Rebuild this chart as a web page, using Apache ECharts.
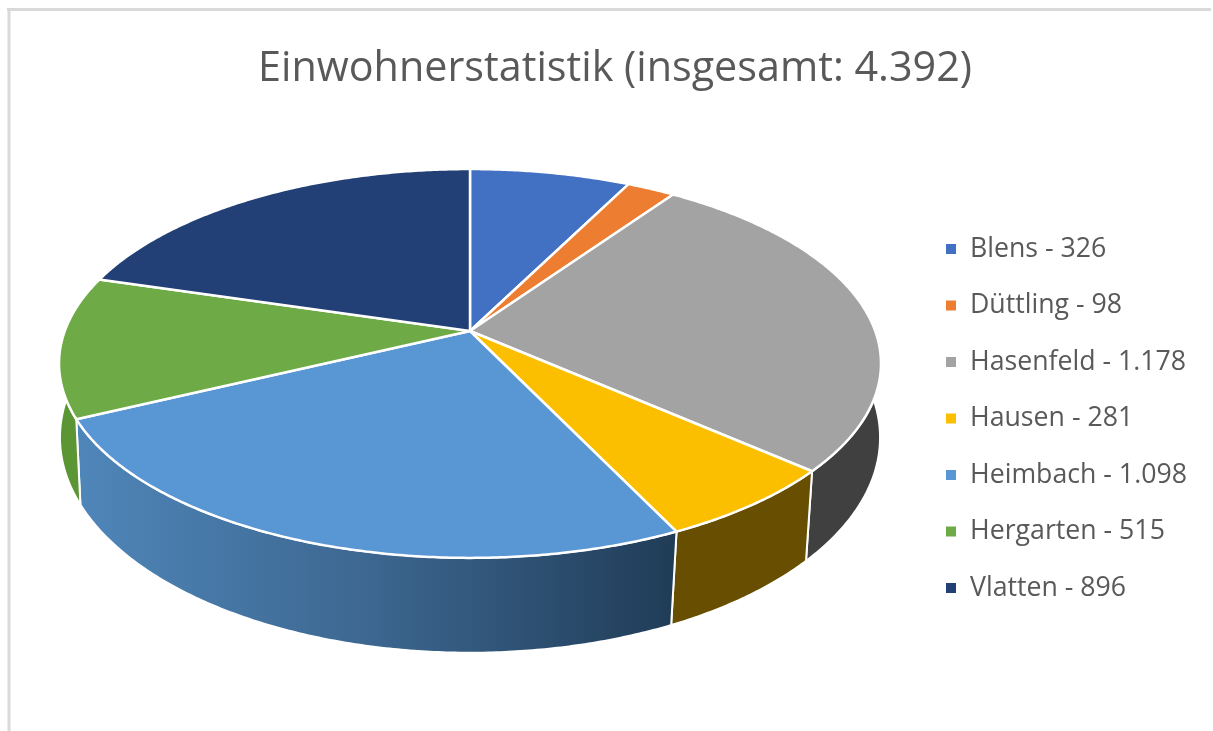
<!DOCTYPE html>
<html><head><meta charset="utf-8">
<style>html,body{margin:0;padding:0;background:#fff}#c{width:1213px;height:731px}</style>
<script src="https://cdn.jsdelivr.net/npm/echarts@6/dist/echarts.min.js"></script>
</head><body><div id="c"></div>
<script>
const titleText = 'Einwohnerstatistik (insgesamt: 4.392)';
const places = ['Blens','Düttling','Hasenfeld','Hausen','Heimbach','Hergarten','Vlatten'];
const inhabitants = [326,98,1178,281,1098,515,896];
const inhabitantLabels = ['326','98','1.178','281','1.098','515','896'];
const topColors = ['#4270c2','#ed7d31','#a3a3a3','#fcbf00','#5996d4','#6eaa45','#223f76'];
const wallColors = [
  '#2f5597','#a5561f','#404040','#674e00',
  new echarts.graphic.LinearGradient(77,0,676,0,[
    {offset:0,color:'#4f86b9'},{offset:0.5,color:'#3c668f'},{offset:1,color:'#203c57'}],true),
  '#5c9634','#1a2f54'];

const total = inhabitants.reduce((a,b)=>a+b,0);
// perspective projection of the pie's top and bottom discs
const CX=470, TOP={y:331,a:405.2,b:189,c:0.167}, BOT={y:407.4,a:406,b:211,c:0.14};
function proj(disc,val){
  const t=val/total*2*Math.PI, u=Math.sin(t), v=-Math.cos(t), w=1-disc.c*v;
  return [CX+disc.a*u/w, disc.y+disc.b*v/w];
}
function arc(disc,s,e){
  const n=Math.max(2,Math.ceil((e-s)/total*720)), p=[];
  for(let i=0;i<=n;i++) p.push(proj(disc,s+(e-s)*i/n));
  return p;
}
function renderWall(params,api){
  const s=api.value(0), e=api.value(1);
  const pts=arc(TOP,s,e).concat(arc(BOT,s,e).reverse());
  return {type:'polygon',shape:{points:pts},
    style:{fill:wallColors[api.value(2)],stroke:'#fff',lineWidth:2,lineJoin:'round'}};
}
function renderTop(params,api){
  const s=api.value(0), e=api.value(1);
  const pts=[[CX,TOP.y]].concat(arc(TOP,s,e));
  return {type:'polygon',shape:{points:pts},
    style:{fill:topColors[api.value(2)],stroke:'#fff',lineWidth:2.5,lineJoin:'round'}};
}
let cum=0; const ranges=inhabitants.map((v,i)=>{const r=[cum,cum+v,i];cum+=v;return r;});
const names=places.map((p,i)=>p+' - '+inhabitantLabels[i]);

const chart=echarts.init(document.getElementById('c'),null,{renderer:'canvas'});
chart.setOption({
  animation:false,
  backgroundColor:'#fff',
  title:{text:titleText,left:610,top:37,textAlign:'center',
    textStyle:{fontFamily:'Open Sans',fontSize:41.3,fontWeight:'normal',color:'#595959',lineHeight:54}},
  legend:{orient:'vertical',left:946,top:234,padding:0,itemGap:26.5,itemWidth:10,itemHeight:10,icon:'rect',
    selectedMode:false,data:names,
    textStyle:{fontFamily:'Open Sans',fontSize:26.7,color:'#595959',lineHeight:30,padding:[0,0,0,9]}},
  graphic:[
    {type:'line',silent:true,shape:{x1:7,y1:9.5,x2:1211,y2:9.5},style:{stroke:'#d9d9d9',lineWidth:3}},
    {type:'line',silent:true,shape:{x1:9,y1:8,x2:9,y2:731},style:{stroke:'#d9d9d9',lineWidth:3}}
  ],
  series:[
    {type:'custom',name:'walls',coordinateSystem:'none',z:1,silent:true,renderItem:renderWall,data:ranges},
    ...names.map((n,i)=>({type:'custom',name:n,coordinateSystem:'none',z:2,silent:true,
      itemStyle:{color:topColors[i]},renderItem:renderTop,data:[ranges[i]]}))
  ]
});
</script></body></html>
